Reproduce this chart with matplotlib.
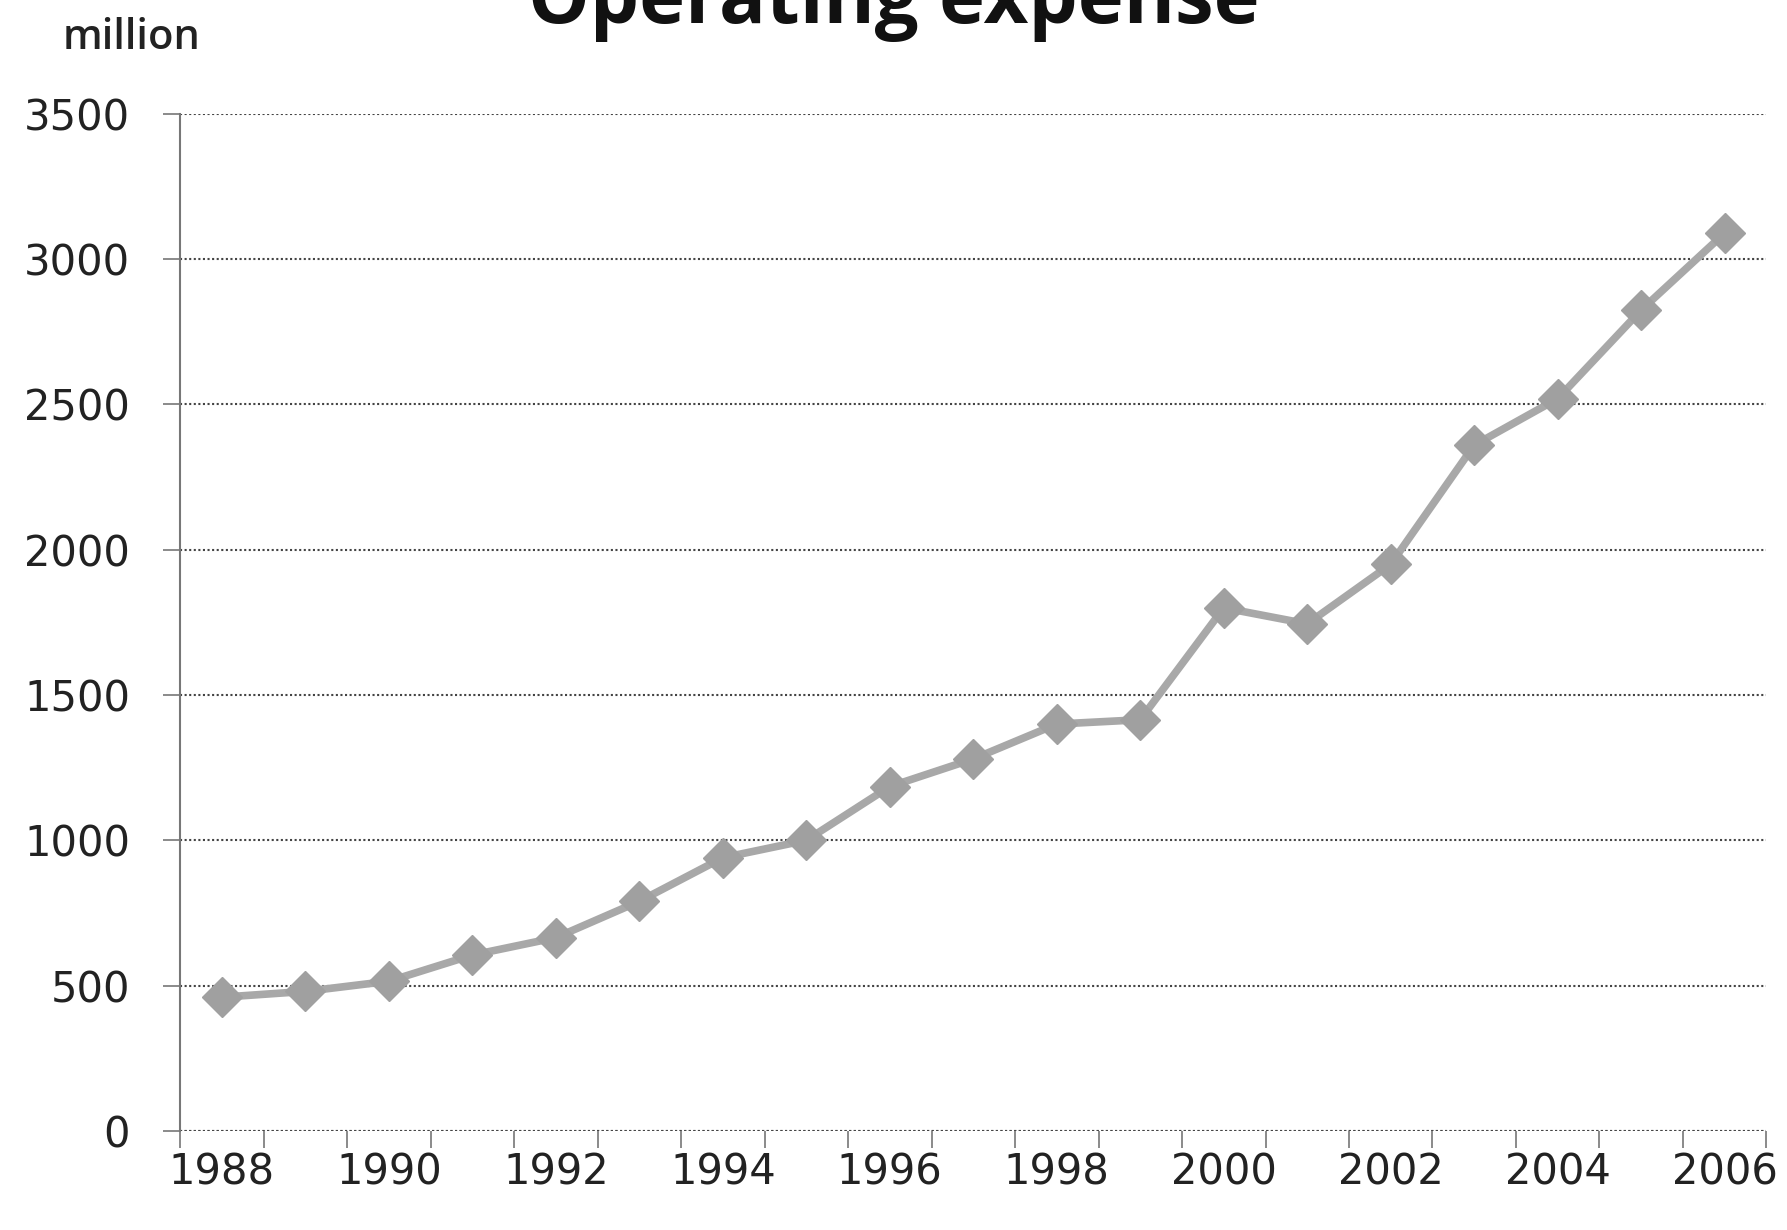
import numpy as np
import matplotlib
matplotlib.use('Agg')
import matplotlib.pyplot as plt

years = [str(y) for y in range(1988, 2007)]
expense = [460, 480, 515, 605, 665, 790, 940, 1000, 1185, 1280,
           1400, 1415, 1800, 1745, 1950, 2360, 2520, 2825, 3090]
y_ticks = [0, 500, 1000, 1500, 2000, 2500, 3000, 3500]

plt.rcParams['font.family'] = ['DejaVu Sans']

fig = plt.figure(figsize=(17.87, 12.30), dpi=100, facecolor='white')
ax = fig.add_axes([0.1008, 0.0806, 0.8877, 0.8268])

x = np.arange(len(years))
ax.plot(x, expense, color='#a8a8a8', linewidth=5.5, marker='D', markersize=20,
        markerfacecolor='#a0a0a0', markeredgecolor='#a0a0a0', zorder=3)

ax.set_xlim(-0.5, len(years) - 0.5)
ax.set_ylim(0, 3500)
ax.set_yticks(y_ticks)
ax.set_yticklabels([str(v) for v in y_ticks], fontsize=30, color='#222222')

ax.set_xticks(x[::2])
ax.set_xticklabels(years[::2], fontsize=30, color='#222222')
ax.set_xticks(np.arange(-0.5, len(years)), minor=True)
ax.tick_params(axis='x', which='major', length=0, pad=15)
ax.tick_params(axis='x', which='minor', length=12, width=1.2, color='#777777', direction='out')
ax.tick_params(axis='y', length=12, width=1.2, color='#777777', pad=24)

ax.grid(axis='y', color='#444444', linestyle=(0, (1, 1.2)), linewidth=1.5)
ax.set_axisbelow(True)
for s in ['top', 'right', 'bottom']:
    ax.spines[s].set_visible(False)
ax.axhline(0, color='#444444', linestyle=(0, (1, 1.2)), linewidth=1.5, zorder=1)
ax.spines['left'].set_color('#777777')
ax.spines['left'].set_linewidth(1.5)

fig.text(0.035, 0.96, 'million', fontsize=30, family='Open Sans', fontweight='semibold',
         color='#222222', va='baseline')
fig.text(0.50, 0.981, 'Operating expense', fontsize=56, family='Open Sans', fontweight='bold',
         color='#111111', ha='center', va='baseline')

fig.savefig('out.png', dpi=100, facecolor='white')
